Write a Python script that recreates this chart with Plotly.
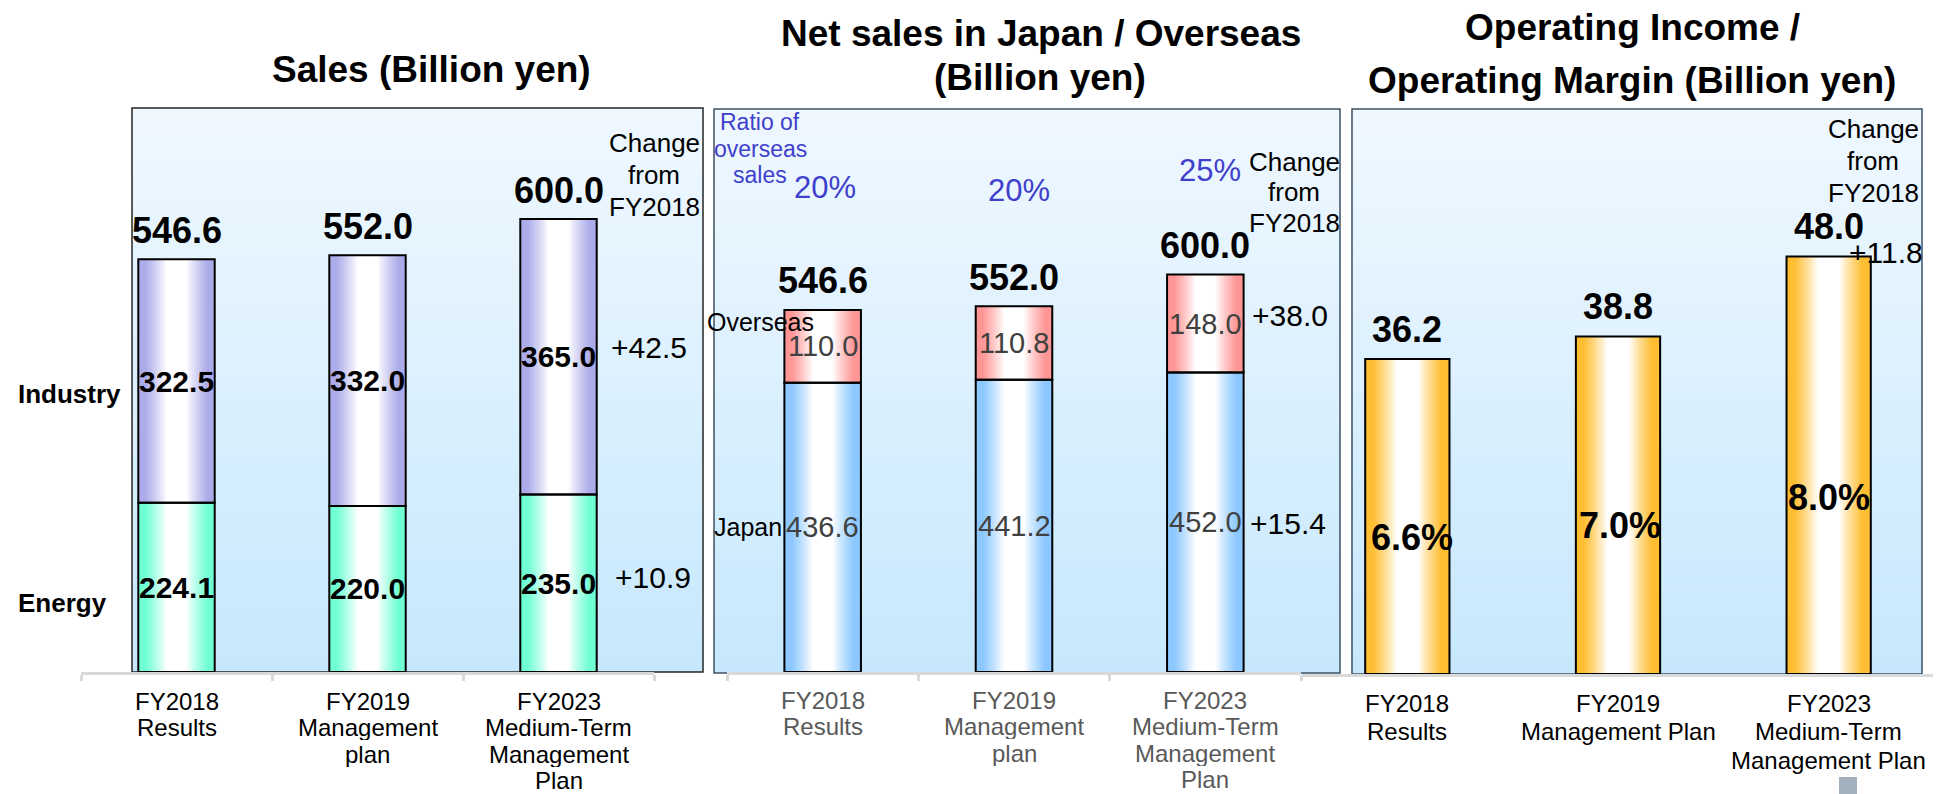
import plotly.graph_objects as go

W, H = 1941, 794
OFF = 8                      # page body margin in the browser
FW, FH = W - OFF, H - OFF    # figure size so it fits the window exactly

# ---------------- data ----------------
categories_sales = ["FY2018<br>Results", "FY2019<br>Management<br>plan",
                    "FY2023<br>Medium-Term<br>Management<br>Plan"]
categories_region = ["FY2018<br>Results", "FY2019<br>Management<br>plan",
                     "FY2023<br>Medium-Term<br>Management<br>Plan"]
categories_income = ["FY2018<br>Results", "FY2019<br>Management Plan",
                     "FY2023<br>Medium-Term<br>Management Plan"]

energy = [224.1, 220.0, 235.0]
industry = [322.5, 332.0, 365.0]
japan = [436.6, 441.2, 452.0]
overseas = [110.0, 110.8, 148.0]
operating_income = [36.2, 38.8, 48.0]
operating_margin = [6.6, 7.0, 8.0]

sales_total = [round(e + i, 1) for e, i in zip(energy, industry)]
region_total = [round(j + o, 1) for j, o in zip(japan, overseas)]
overseas_ratio = [round(o / t * 100) for o, t in zip(overseas, region_total)]

FONT = "Liberation Sans, Arial, sans-serif"


def px_x(p):
    return (p - OFF) / FW


def px_y(p):
    return 1 - (p - OFF) / FH


def mix(rgb, t):
    r, g, b = [round(255 + (c - 255) * t) for c in rgb]
    return f"rgb({r},{g},{b})"


fig = go.Figure()

# ---------------- cylinder-like bars ----------------
N = 22


def cyl_bars(cats, vals, base, rgb, xa, ya):
    for k in range(N):
        d = 1 - k / N
        t = max(0.0, min(1.0, (d - 0.28) / 0.55)) ** 0.9
        fig.add_trace(go.Bar(x=cats, y=vals, base=base, width=0.4 * d,
                             marker=dict(color=mix(rgb, t), line=dict(width=0)),
                             xaxis=xa, yaxis=ya, hoverinfo="skip", showlegend=False))


def outline(cats, vals, base, xa, ya):
    fig.add_trace(go.Bar(x=cats, y=vals, base=base, width=0.4,
                         marker=dict(color="rgba(0,0,0,0)", line=dict(color="black", width=2)),
                         xaxis=xa, yaxis=ya, hoverinfo="skip", showlegend=False))


C_IND = (172, 172, 234)
C_ENE = (112, 255, 212)
C_OVS = (255, 150, 150)
C_JPN = (140, 200, 255)
C_INC = (255, 190, 50)

cyl_bars(categories_sales, energy, [0, 0, 0], C_ENE, "x", "y")
cyl_bars(categories_sales, industry, energy, C_IND, "x", "y")
cyl_bars(categories_region, japan, [0, 0, 0], C_JPN, "x2", "y2")
cyl_bars(categories_region, overseas, japan, C_OVS, "x2", "y2")
cyl_bars(categories_income, operating_income, [0, 0, 0], C_INC, "x3", "y3")

outline(categories_sales, energy, [0, 0, 0], "x", "y")
outline(categories_sales, industry, energy, "x", "y")
outline(categories_region, japan, [0, 0, 0], "x2", "y2")
outline(categories_region, overseas, japan, "x2", "y2")
outline(categories_income, operating_income, [0, 0, 0], "x3", "y3")

# ---------------- backgrounds ----------------
shapes = []


def grad_box(x0, y0, x1, y1, border, bw=1.5, n=40):
    top = (240, 248, 255)
    bot = (198, 232, 252)
    for k in range(n):
        a = y0 + (y1 - y0) * k / n
        b = y0 + (y1 - y0) * (k + 1) / n + 0.6
        f = (k + 0.5) / n
        col = "rgb(%d,%d,%d)" % tuple(round(top[c] + (bot[c] - top[c]) * f) for c in range(3))
        shapes.append(dict(type="rect", xref="paper", yref="paper", layer="below",
                           x0=px_x(x0), x1=px_x(x1), y0=px_y(a), y1=px_y(min(b, y1)),
                           fillcolor=col, line=dict(width=0)))
    shapes.append(dict(type="rect", xref="paper", yref="paper", layer="below",
                       x0=px_x(x0), x1=px_x(x1), y0=px_y(y0), y1=px_y(y1),
                       fillcolor="rgba(0,0,0,0)", line=dict(color=border, width=bw)))


grad_box(132, 108, 703, 672, "#262626")
grad_box(714, 109, 1340, 673, "#3d5166")
grad_box(1352, 109, 1922, 674, "#3d5166")
shapes.append(dict(type="rect", xref="paper", yref="paper", x0=px_x(1839), x1=px_x(1857),
                   y0=px_y(794), y1=px_y(777), fillcolor="#a3b0bd", line=dict(width=0)))

# ---------------- annotations ----------------
ann = []


def A(text, x, y, size, color="black", bold=False, xref="paper", yref="paper",
      xanchor="center", yanchor="middle", yshift=0, xshift=0, height=None):
    if xref == "paper":
        x = px_x(x)
    if yref == "paper":
        y = px_y(y)
    a = dict(text=f"<b>{text}</b>" if bold else text, x=x, y=y, xref=xref, yref=yref,
             xanchor=xanchor, yanchor=yanchor, yshift=yshift, xshift=xshift,
             showarrow=False, align="center",
             font=dict(family=FONT, size=size, color=color))
    if height is not None:
        a.update(height=height, borderpad=0, valign="middle")
    ann.append(a)


def lines(text_lines, x, y0, step, size, color="black", xref="paper", height=None):
    for k, t in enumerate(text_lines):
        A(t, x, y0 + step * k, size, color=color, xref=xref, height=height)


# titles
A("Sales (Billion yen)", 431, 69, 37, bold=True)
A("Net sales in Japan / Overseas", 1041, 33, 37, bold=True)
A("(Billion yen)", 1040, 78, 37, bold=True)
A("Operating Income /", 1632, 27, 37, bold=True)
A("Operating Margin (Billion yen)", 1632, 80, 37, bold=True)

# category labels (axis tick text, one line at a time for tight spacing)
for c in categories_sales:
    lines(c.split("<br>"), c, 701, 26.3, 24, xref="x", height=26)
for c in categories_region:
    lines(c.split("<br>"), c, 700, 26.3, 24, color="#595959", xref="x2", height=26)
for c in categories_income:
    lines(c.split("<br>"), c, 703, 28.5, 24, xref="x3")

# panel 1
for i, c in enumerate(categories_sales):
    A(f"{sales_total[i]:.1f}", c, sales_total[i], 36, bold=True, xref="x", yref="y", yshift=29)
    A(f"{industry[i]:.1f}", c, energy[i] + industry[i] / 2, 30, bold=True, xref="x", yref="y")
    A(f"{energy[i]:.1f}", c, energy[i] / 2, 30, bold=True, xref="x", yref="y")
A("Industry", 16, 394, 26, bold=True, xanchor="left")
A("Energy", 16, 603, 26, bold=True, xanchor="left")
lines(["Change", "from", "FY2018"], 654, 143, 32, 26)
A(f"+{industry[2] - industry[0]:.1f}", 649, 347, 30)
A(f"+{energy[2] - energy[0]:.1f}", 653, 577, 30)

# panel 2
BLUE = "#4040cc"
for i, c in enumerate(categories_region):
    A(f"{region_total[i]:.1f}", c, region_total[i], 36, bold=True, xref="x2", yref="y2", yshift=29)
    A(f"{overseas[i]:.1f}", c, japan[i] + overseas[i] / 2, 29, color="#404040", xref="x2", yref="y2")
    A(f"{japan[i]:.1f}", c, japan[i] / 2, 29, color="#404040", xref="x2", yref="y2")
A(f"{overseas_ratio[0]}%", 825, 188, 31, color=BLUE)
A(f"{overseas_ratio[1]}%", 1019, 190, 31, color=BLUE)
A(f"{overseas_ratio[2]}%", 1210, 170, 31, color=BLUE)
lines(["Ratio of", "overseas", "sales"], 760, 122, 26.5, 23, color=BLUE)
A("Overseas", 705, 322, 25, xanchor="left")
A("Japan", 712, 527, 25, xanchor="left")
lines(["Change", "from", "FY2018"], 1294, 162, 30.5, 26)
A(f"+{overseas[2] - overseas[0]:.1f}", 1290, 315, 30)
A(f"+{japan[2] - japan[0]:.1f}", 1288, 523, 30)

# panel 3
for i, c in enumerate(categories_income):
    A(f"{operating_income[i]:.1f}", c, operating_income[i], 36, bold=True, xref="x3", yref="y3", yshift=30)
A(f"{operating_margin[0]:.1f}%", 1412, 537, 36, bold=True)
A(f"{operating_margin[1]:.1f}%", 1620, 525, 36, bold=True)
A(f"{operating_margin[2]:.1f}%", 1829, 497, 36, bold=True)
lines(["Change", "from", "FY2018"], 1873, 129, 32, 26)
A(f"+{operating_income[2] - operating_income[0]:.1f}", 1886, 252, 30)


# ---------------- axes ----------------
def xax(dom, ticks, anchor):
    return dict(domain=[px_x(dom[0]), px_x(dom[1])], type="category", range=[-0.5, 2.5],
                anchor=anchor, showline=True, linecolor="#d9d9d9", linewidth=3,
                ticks=ticks, tickson="boundaries", ticklen=6, tickwidth=3, tickcolor="#d9d9d9",
                showticklabels=False, showgrid=False, zeroline=False, fixedrange=True)


def yax(bottom, top, rng):
    return dict(domain=[px_y(bottom), px_y(top)], range=rng, visible=False,
                showgrid=False, zeroline=False, fixedrange=True)


fig.update_layout(
    width=FW, height=FH, margin=dict(l=0, r=0, t=0, b=0),
    paper_bgcolor="white", plot_bgcolor="rgba(0,0,0,0)",
    barmode="overlay", showlegend=False,
    font=dict(family=FONT),
    xaxis=xax((81, 654), "outside", "y"),
    yaxis=yax(672, 108, [0, 564 / 0.755]),
    xaxis2=xax((727, 1301), "outside", "y2"),
    yaxis2=yax(672, 108, [0, 564 / 0.6625]),
    xaxis3=xax((1302, 1934), "", "y3"),
    yaxis3=yax(674, 108, [0, 566 / 8.7]),
    shapes=shapes, annotations=ann,
)

fig.write_html("out.html")
